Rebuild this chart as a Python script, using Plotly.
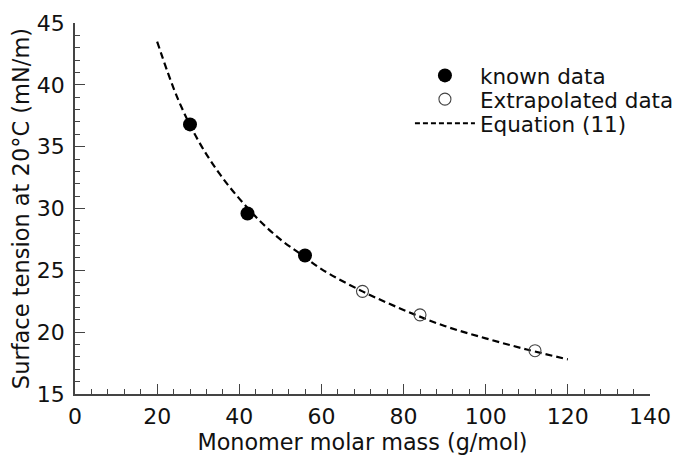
import plotly.graph_objects as go

# known data points (monomer molar mass g/mol, surface tension mN/m)
known_x = [28, 42, 56]
known_y = [36.8, 29.6, 26.2]

# extrapolated points
extra_x = [70, 84, 112]
extra_y = [23.3, 21.4, 18.5]

# Equation (11) curve
eq_x = [20, 25, 30, 35, 40, 45, 50, 55, 60, 70, 80, 90, 100, 110, 120]
eq_y = [43.5, 38.9, 35.5, 32.9, 30.8, 29.0, 27.5, 26.3, 25.1, 23.3, 21.8, 20.5, 19.5, 18.6, 17.8]

font = "DejaVu Sans, Verdana, sans-serif"
txt = "#111"

fig = go.Figure()

fig.add_trace(go.Scatter(
    x=eq_x, y=eq_y, mode="lines", name="Equation (11)",
    line=dict(color="black", width=2.2, dash="7px,4px", shape="spline"),
    showlegend=False,
))
fig.add_trace(go.Scatter(
    x=known_x, y=known_y, mode="markers", name="known data",
    marker=dict(symbol="circle", size=14, color="black"),
    legend="legend",
))
fig.add_trace(go.Scatter(
    x=extra_x, y=extra_y, mode="markers", name="Extrapolated data",
    marker=dict(symbol="circle-open", size=12, color="#444", line=dict(width=1.1)),
    legend="legend2",
))
# legend entry for the line
fig.add_trace(go.Scatter(
    x=[None], y=[None], mode="lines", name="Equation (11)",
    line=dict(color="black", width=2.2, dash="5px,3px"),
    legend="legend3",
))

axis_common = dict(
    showline=True, linecolor="#444", linewidth=1.5, mirror=False,
    showgrid=False, zeroline=False, automargin=False,
    ticks="inside", ticklen=10, tickwidth=1.3, tickcolor="#444",
    tickfont=dict(size=22, color=txt, family=font),
)

fig.update_xaxes(
    range=[0, 140], dtick=20, tick0=0,
    minor=dict(ticks="inside", ticklen=5, tickwidth=1.2, tickcolor="#444", dtick=4, tick0=0),
    title=dict(text="Monomer molar mass (g/mol)", font=dict(size=22.3, color=txt, family=font), standoff=6),
    ticklabelstandoff=2,
    **axis_common,
)
fig.update_yaxes(
    range=[15, 45], dtick=5, tick0=15,
    minor=dict(ticks="inside", ticklen=5, tickwidth=1.2, tickcolor="#444", dtick=1, tick0=15),
    title=dict(text="Surface tension at 20°C (mN/m)", font=dict(size=22.5, color=txt, family=font), standoff=7),
    ticklabelstandoff=4,
    **axis_common,
)

leg = dict(
    x=0.5825, xanchor="left", yanchor="top",
    bgcolor="rgba(0,0,0,0)", font=dict(size=21.5, family=font, color=txt),
    itemwidth=60,
)

# page body has an 8px margin; figure is made a bit wider than the window
# so the legend box does not push the plot area in
fig.update_layout(
    width=700, height=455,
    margin=dict(l=67, r=58, t=15, b=69),
    paper_bgcolor="white", plot_bgcolor="white",
    font=dict(family=font, color=txt),
    legend=dict(y=0.914, **leg),
    legend2=dict(y=0.850, **leg),
    legend3=dict(y=0.785, **leg),
)

fig.write_html("out.html")
